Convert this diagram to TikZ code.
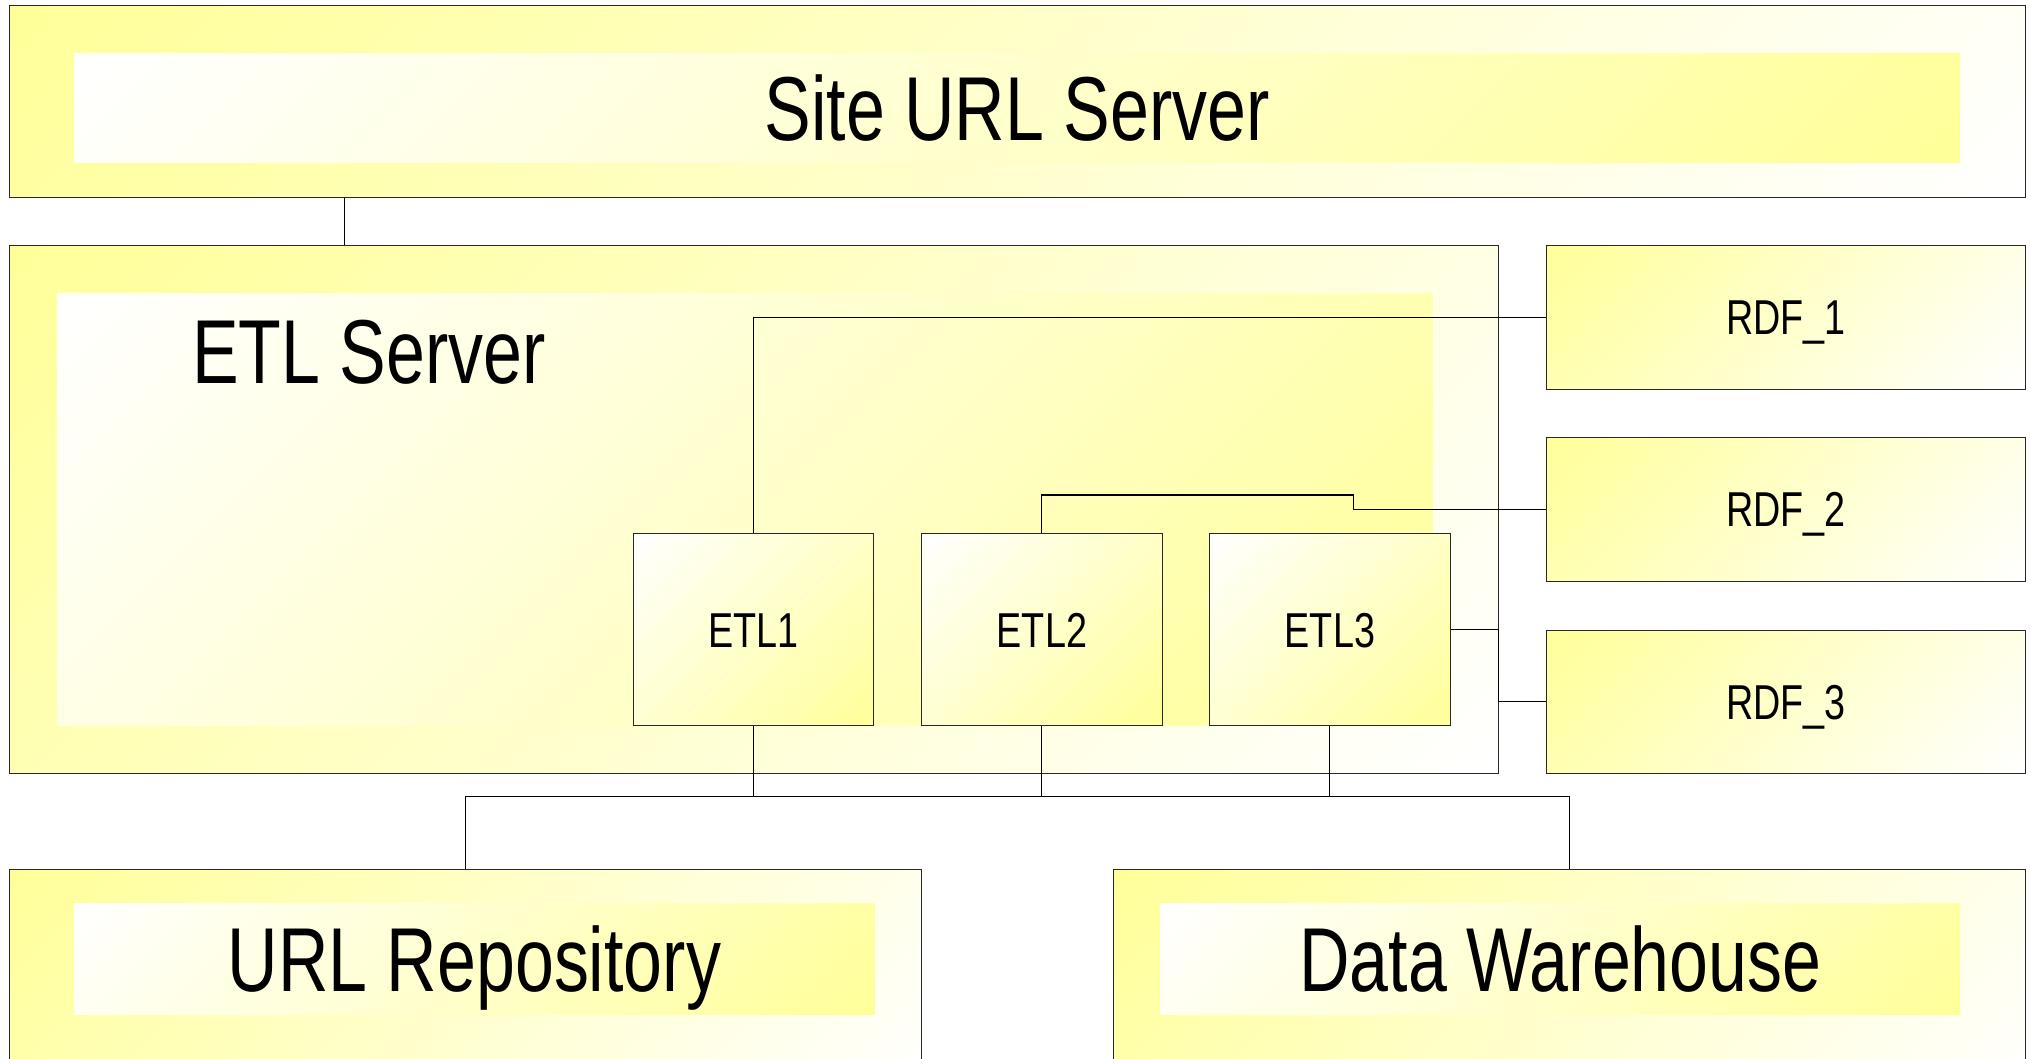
\documentclass[tikz,border=0pt]{standalone}
\usepackage{fontspec}
\setmainfont{Liberation Sans}[FakeStretch=0.77]
\usetikzlibrary{calc}

\definecolor{ylw}{RGB}{255,255,153}
\definecolor{edge}{RGB}{40,40,40}

% yellow/white ramp, laid out so that a square of side (w+h) spans
% exactly one corner-to-corner diagonal of a w x h box
\pgfdeclareverticalshading{ywdiag}{100bp}{color(0bp)=(white); color(32.32bp)=(white); color(67.68bp)=(ylw); color(100bp)=(ylw)}

\newcommand\bigtxt{\fontsize{90.8}{100}\selectfont}
\newcommand\smalltxt{\fontsize{49}{58}\selectfont}

\tikzset{
  diagfill/.style={path picture={
    \shade[shading=ywdiag, shading angle=#1]
      let \p1=(path picture bounding box.south west),
          \p2=(path picture bounding box.north east),
          \n1={(\x2-\x1+\y2-\y1)/2}
      in ($(path picture bounding box.center)-(\n1,\n1)$)
         rectangle ($(path picture bounding box.center)+(\n1,\n1)$);
  }},
  box/.style={draw=edge, line width=1.3pt, inner sep=0pt, anchor=north west},
  panel/.style={inner sep=0pt, anchor=north west},
  bigfont/.style={font=\bigtxt, text height=65pt, text depth=0pt},
  smallfont/.style={font=\smalltxt, text height=35pt, text depth=0pt},
  wire/.style={draw=black, line width=1.1pt},
}

\begin{document}
\begin{tikzpicture}[x=1pt, y=-1pt]
\useasboundingbox (0,0) rectangle (2031,1058);
\fill[white] (0,0) rectangle (2031,1058);
\clip (0,0) rectangle (2031,1058);

% --- Site URL Server
\node[box, diagfill=45, minimum width=2016, minimum height=192] (siteurl) at (9,5) {};
\node[panel, diagfill=225, minimum width=1886, minimum height=109, bigfont] (siteurlin) at (74,53) {Site URL Server};

% --- ETL Server
\node[box, diagfill=45, minimum width=1488.5, minimum height=528] (etlsrv) at (9,245) {};
\node[panel, diagfill=225, minimum width=1375.5, minimum height=432] (etlsrvin) at (57,293) {};
\node[anchor=base west, inner sep=0pt, font=\bigtxt] (etlsrvlbl) at (192,383) {ETL Server};

% --- ETL workers
\node[box, diagfill=225, minimum width=240.5, minimum height=192, smallfont] (etl1) at (632.5,533) {ETL1};
\node[box, diagfill=225, minimum width=240.5, minimum height=192, smallfont] (etl2) at (921,533) {ETL2};
\node[box, diagfill=225, minimum width=240.5, minimum height=192, smallfont] (etl3) at (1209,533) {ETL3};

% --- RDF stores
\node[box, diagfill=45, minimum width=479.5, minimum height=143.5, smallfont] (rdf1) at (1545.5,245) {RDF\_1};
\node[box, diagfill=45, minimum width=479.5, minimum height=143.5, smallfont] (rdf2) at (1545.5,437) {RDF\_2};
\node[box, diagfill=45, minimum width=479.5, minimum height=143.5, smallfont] (rdf3) at (1545.5,629.5) {RDF\_3};

% --- URL Repository
\node[box, diagfill=45, minimum width=912, minimum height=221] (urlrepo) at (9,869) {};
\node[panel, diagfill=225, minimum width=800.5, minimum height=111, bigfont] (urlrepoin) at (74,903) {URL Repository};

% --- Data Warehouse
\node[box, diagfill=45, minimum width=912, minimum height=221] (dwh) at (1113,869) {};
\node[panel, diagfill=225, minimum width=799.5, minimum height=111, bigfont] (dwhin) at (1160.5,903) {Data Warehouse};

% --- routing points
\coordinate (up1) at (344.5,0);
\coordinate (k2) at (1353.5,495);
\coordinate (bus) at (0,796.6);

% --- connectors
\draw[wire] (siteurl.south -| up1) -- (etlsrv.north -| up1);
\draw[wire] (etl1.north) |- (rdf1.west);
\draw[wire] (etl2.north) |- (k2) |- (rdf2.west);
\draw[wire] (etl3.east) -- (etl3.east -| etlsrv.east) |- (rdf3.west);
\draw[wire] (etl1.south) -- (etl1.south |- bus);
\draw[wire] (etl2.south) -- (etl2.south |- bus);
\draw[wire] (etl3.south) -- (etl3.south |- bus);
\draw[wire] (urlrepo.north) -- (urlrepo.north |- bus) -- (dwh.north |- bus) -- (dwh.north);
\end{tikzpicture}
\end{document}
